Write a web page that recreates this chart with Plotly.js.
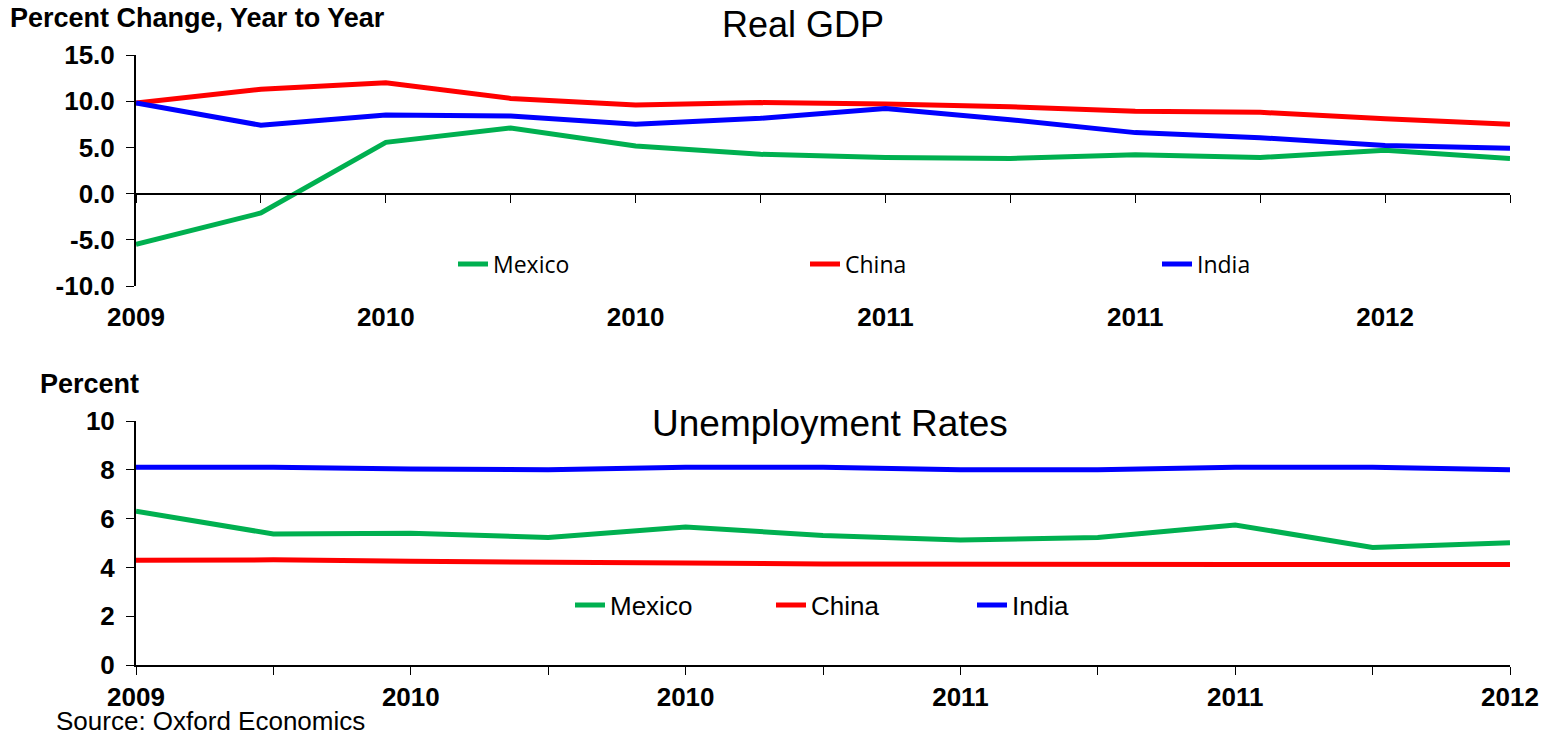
<!DOCTYPE html>
<html><head><meta charset="utf-8">
<script src="https://cdn.plot.ly/plotly-3.0.1.min.js"></script>
<style>html,body{margin:0;padding:0;background:#fff}</style>
</head><body><div id="chart" style="width:1544px;height:736px"></div>
<script>
// ---- data ----
const gdpTickLabels = ['2009','','2010','','2010','','2011','','2011','','2012',''];
const gdpYTickVals = [-10, -5, 0, 5, 10, 15];
const gdpYTickLabels = ['-10.0','-5.0','0.0','5.0','10.0','15.0'];
const gdpMexico = [-5.5,-2.1,5.55,7.1,5.15,4.25,3.9,3.8,4.2,3.9,4.7,3.8];
const gdpChina  = [9.8,11.3,12.0,10.3,9.6,9.85,9.7,9.4,8.9,8.8,8.1,7.5];
const gdpIndia  = [9.8,7.4,8.5,8.4,7.5,8.15,9.2,8.0,6.6,6.05,5.2,4.9];

const unTickLabels = ['2009','','2010','','2010','','2011','','2011','','2012'];
const unMexico = [6.3,5.37,5.4,5.23,5.66,5.31,5.12,5.23,5.74,4.82,5.01];
const unChina  = [4.29,4.31,4.25,4.24,4.18,4.14,4.12,4.12,4.12,4.12,4.12];
const unIndia  = [8.1,8.1,8.03,8.0,8.1,8.1,8.0,8.0,8.1,8.1,8.0];

const seriesNames = ['Mexico','China','India'];
const seriesColors = ['#00B050','#FF0000','#0000FF'];

// ---- layout helpers ----
const W = 1544, H = 736;
const px = x => x / W;
const py = y => 1 - y / H;

const gdpX = gdpTickLabels.map((_, i) => i);
const unX = unTickLabels.map((_, i) => i);

const gdpRange = [-10, 15];
const gdpYDom = [py(286), py(55)];
const zeroPos = gdpYDom[0] + (0 - gdpRange[0]) / (gdpRange[1] - gdpRange[0]) * (gdpYDom[1] - gdpYDom[0]);

const traces = [];
[gdpMexico, gdpChina, gdpIndia].forEach((ys, k) => {
  traces.push({x: gdpX, y: ys, type: 'scatter', mode: 'lines', name: seriesNames[k],
    line: {color: seriesColors[k], width: 5}, xaxis: 'x', yaxis: 'y', legend: 'legend', hoverinfo: 'skip'});
});
// helper trace for the zero-line axis
traces.push({x: gdpX, y: gdpX.map(() => null), type: 'scatter', mode: 'lines', xaxis: 'x3', yaxis: 'y', showlegend: false, hoverinfo: 'skip'});
[unMexico, unChina, unIndia].forEach((ys, k) => {
  traces.push({x: unX, y: ys, type: 'scatter', mode: 'lines', name: seriesNames[k],
    line: {color: seriesColors[k], width: 5}, xaxis: 'x2', yaxis: 'y2', legend: 'legend2', hoverinfo: 'skip'});
});

const boldTick = {family: 'Arial, Liberation Sans, sans-serif', size: 26, color: '#000', weight: 'bold'};
const xDom = [px(136), px(1510)];

const layout = {
  width: W, height: H,
  margin: {l: 0, r: 0, t: 0, b: 0},
  paper_bgcolor: '#fff', plot_bgcolor: 'rgba(0,0,0,0)',
  xaxis: {domain: xDom, anchor: 'y', range: [0, gdpX.length - 1], tickmode: 'array', tickvals: gdpX, ticktext: gdpTickLabels,
    ticks: '', showline: false, showgrid: false, zeroline: false, tickfont: boldTick, ticklabelstandoff: 13, automargin: false},
  xaxis3: {overlaying: 'x', anchor: 'free', position: zeroPos, range: [0, gdpX.length - 1], tickmode: 'array', tickvals: gdpX,
    ticks: 'outside', ticklen: 8, tickwidth: 1, tickcolor: '#000', showticklabels: false, showline: true, linewidth: 2, linecolor: '#000',
    showgrid: false, zeroline: false, automargin: false},
  yaxis: {domain: gdpYDom, anchor: 'x', range: gdpRange, tickmode: 'array', tickvals: gdpYTickVals, ticktext: gdpYTickLabels,
    ticks: 'outside', ticklen: 8, tickwidth: 1, tickcolor: '#000', showline: true, linewidth: 2, linecolor: '#000',
    showgrid: false, zeroline: false, tickfont: boldTick, ticklabelstandoff: 6, automargin: false},
  xaxis2: {domain: xDom, anchor: 'y2', range: [0, unX.length - 1], tickmode: 'array', tickvals: unX, ticktext: unTickLabels,
    ticks: 'outside', ticklen: 8, tickwidth: 1, tickcolor: '#000', showline: true, linewidth: 2, linecolor: '#000',
    showgrid: false, zeroline: false, tickfont: boldTick, ticklabelstandoff: 0, automargin: false},
  yaxis2: {domain: [py(665), py(421)], anchor: 'x2', range: [0, 10], tickmode: 'linear', tick0: 0, dtick: 2,
    ticks: 'outside', ticklen: 8, tickwidth: 1, tickcolor: '#000', showline: true, linewidth: 2, linecolor: '#000',
    showgrid: false, zeroline: false, tickfont: boldTick, ticklabelstandoff: 6, automargin: false},
  legend: {orientation: 'h', x: px(453), xanchor: 'left', y: py(264), yanchor: 'middle', bgcolor: 'rgba(0,0,0,0)',
    font: {family: 'Open Sans, sans-serif', size: 23, color: '#000'}, entrywidth: 307, entrywidthmode: 'pixels', itemclick: false},
  legend2: {orientation: 'h', x: px(570), xanchor: 'left', y: py(605), yanchor: 'middle', bgcolor: 'rgba(0,0,0,0)',
    font: {family: 'Arial, Liberation Sans, sans-serif', size: 26, color: '#000'}, entrywidth: 156, entrywidthmode: 'pixels', itemclick: false},
  showlegend: true,
  annotations: [
    {text: 'Percent Change, Year to Year', xref: 'paper', yref: 'paper', x: px(8), y: py(18), xanchor: 'left', yanchor: 'middle', showarrow: false,
      font: {family: 'Arial, Liberation Sans, sans-serif', size: 27, weight: 'bold', color: '#000'}},
    {text: 'Real GDP', xref: 'paper', yref: 'paper', x: px(803), y: py(25), xanchor: 'center', yanchor: 'middle', showarrow: false,
      font: {family: 'Arial, Liberation Sans, sans-serif', size: 36, color: '#000'}},
    {text: 'Percent', xref: 'paper', yref: 'paper', x: px(38), y: py(384), xanchor: 'left', yanchor: 'middle', showarrow: false,
      font: {family: 'Arial, Liberation Sans, sans-serif', size: 27, weight: 'bold', color: '#000'}},
    {text: 'Unemployment Rates', xref: 'paper', yref: 'paper', x: px(830), y: py(423), xanchor: 'center', yanchor: 'middle', showarrow: false,
      font: {family: 'Arial, Liberation Sans, sans-serif', size: 37, color: '#000'}},
    {text: 'Source: Oxford Economics', xref: 'paper', yref: 'paper', x: px(54), y: py(721), xanchor: 'left', yanchor: 'middle', showarrow: false,
      font: {family: 'Arial, Liberation Sans, sans-serif', size: 26, color: '#000'}}
  ]
};

Plotly.newPlot('chart', traces, layout, {displayModeBar: false, staticPlot: true});
</script>
</body></html>
